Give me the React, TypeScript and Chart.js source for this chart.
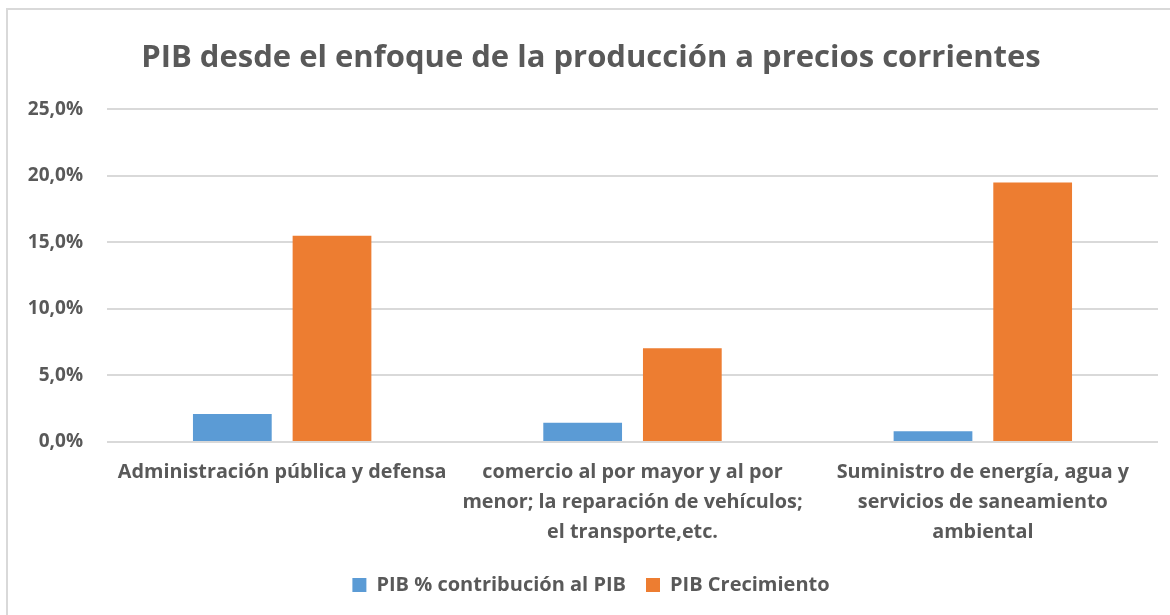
import React, { useEffect, useRef } from "react";
import { Chart, registerables } from "chart.js";

Chart.register(...registerables);

const TITLE = "PIB desde el enfoque de la producción a precios corrientes";
const categories: string[][] = [
  ["Administración pública y defensa"],
  ["comercio al por mayor y al por", "menor; la reparación de vehículos;", "el transporte,etc."],
  ["Suministro de energía, agua y", "servicios de saneamiento", "ambiental"],
];
const seriesNames = ["PIB % contribución al PIB", "PIB Crecimiento"];
const contribucion = [2.1, 1.45, 0.8];
const crecimiento = [15.5, 7.05, 19.5];
const yTicks = [0, 5, 10, 15, 20, 25];

const FONT = "'Open Sans', 'Liberation Sans', sans-serif";
const TEXT = "#595959";

export default function App() {
  const ref = useRef<HTMLCanvasElement | null>(null);
  useEffect(() => {
    document.body.style.margin = "0";
    const ctx = ref.current!.getContext("2d")!;
    const chart = new Chart(ctx, {
      type: "bar",
      data: {
        labels: categories,
        datasets: [
          {
            label: seriesNames[0],
            data: contribucion,
            backgroundColor: "#5B9BD5",
            categoryPercentage: 0.569,
            barPercentage: 0.79,
          },
          {
            label: seriesNames[1],
            data: crecimiento,
            backgroundColor: "#ED7D31",
            categoryPercentage: 0.569,
            barPercentage: 0.79,
          },
        ],
      },
      options: {
        animation: false,
        responsive: false,
        maintainAspectRatio: false,
        layout: { padding: { left: 24, right: 12, top: 0, bottom: 10 } },
        plugins: {
          tooltip: { enabled: false },
          title: {
            display: true,
            text: TITLE,
            color: TEXT,
            font: { family: FONT, size: 31, weight: "bold", lineHeight: 1.2 },
            padding: { top: 40, bottom: 32 },
          },
          legend: {
            position: "bottom",
            labels: {
              color: TEXT,
              font: { family: FONT, size: 20, weight: "bold" },
              boxWidth: 14,
              boxHeight: 14,
              padding: 20,
            },
          },
        },
        scales: {
          x: {
            grid: { display: false, drawTicks: false },
            border: { display: false },
            ticks: {
              color: TEXT,
              font: { family: FONT, size: 19.8, weight: "bold", lineHeight: 1.52 },
              padding: 15,
              maxRotation: 0,
              autoSkip: false,
            },
            afterFit: (s: any) => {
              s.height = 113;
            },
          },
          y: {
            min: 0,
            max: 25,
            afterBuildTicks: (s: any) => {
              s.ticks = yTicks.map((v) => ({ value: v }));
            },
            grid: { color: "#D9D9D9", lineWidth: 2, drawTicks: false },
            border: { display: false },
            ticks: {
              color: TEXT,
              font: { family: FONT, size: 19, weight: "bold" },
              padding: 24,
              callback: (v: any) => Number(v).toFixed(1).replace(".", ",") + "%",
            },
            afterFit: (s: any) => {
              s.width = 83;
            },
          },
        },
      },
    });
    return () => chart.destroy();
  }, []);
  return (
    <div style={{ position: "relative", width: 1170, height: 615, background: "#fff" }}>
      <canvas ref={ref} width={1170} height={615} style={{ position: "absolute", left: 0, top: 0 }} />
      <div
        style={{
          position: "absolute",
          left: 6,
          top: 8,
          width: 1170,
          height: 620,
          borderTop: "2px solid #D9D9D9",
          borderLeft: "2px solid #D9D9D9",
          pointerEvents: "none",
        }}
      />
    </div>
  );
}
